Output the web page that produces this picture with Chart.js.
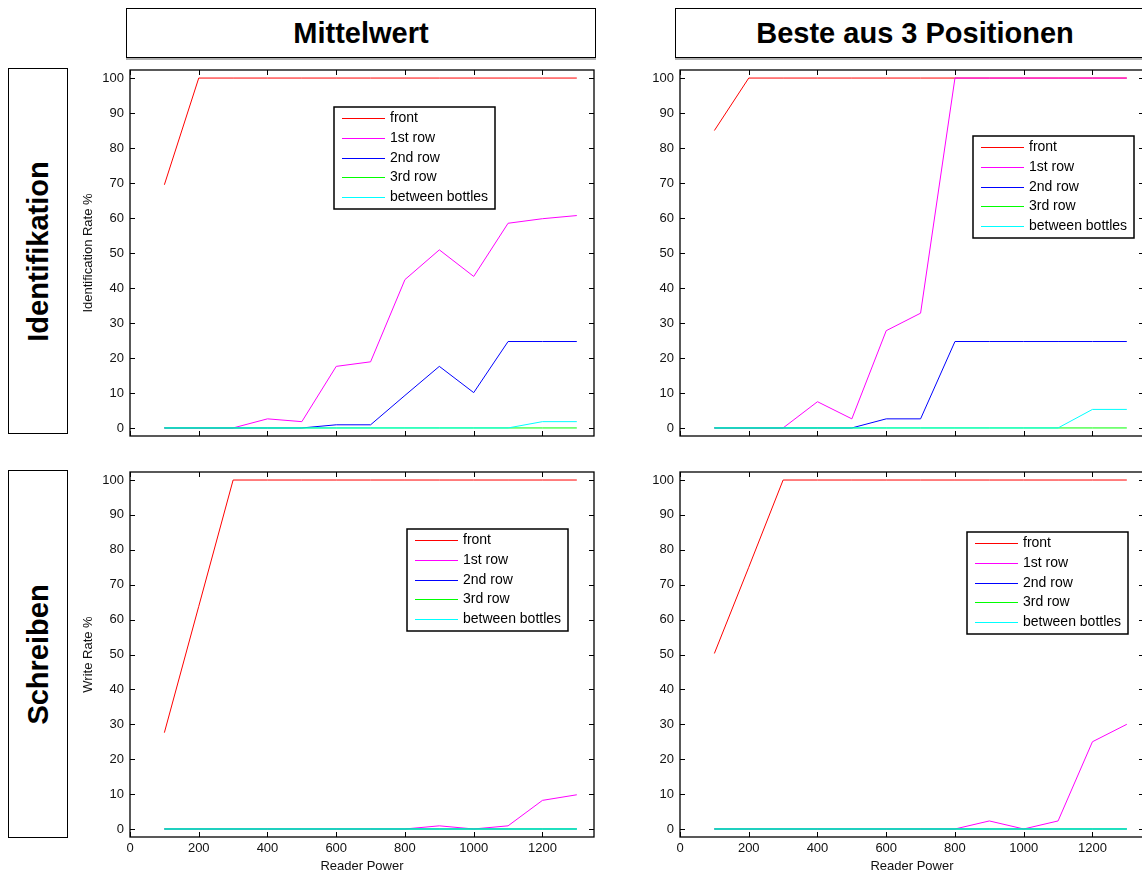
<!DOCTYPE html>
<html>
<head>
<meta charset="utf-8">
<script src="https://cdn.jsdelivr.net/npm/chart.js@4.4.1/dist/chart.umd.min.js"></script>
<style>
body { margin: 0; background: #fff; width: 1142px; height: 874px; overflow: hidden; position: relative;
       font-family: "Liberation Sans", Arial, sans-serif; }
.hdr { position: absolute; box-sizing: border-box; border: 1px solid #000; background: #fff;
       font-weight: bold; font-size: 29px; display: flex; align-items: center; justify-content: center; }
.top { box-shadow: 0 2px 0 #b0b0b0; }
.side span { transform: rotate(-90deg); white-space: nowrap; }
canvas { position: absolute; }
</style>
</head>
<body>
<div class="hdr top" style="left:126px;top:8px;width:470px;height:50px;">Mittelwert</div>
<div class="hdr top" style="left:675px;top:8px;width:480px;height:50px;">Beste aus 3 Positionen</div>
<div class="hdr side" style="left:8px;top:68px;width:60px;height:366px;"><span>Identifikation</span></div>
<div class="hdr side" style="left:8px;top:470px;width:60px;height:368px;"><span>Schreiben</span></div>

<canvas id="idMean" width="530" height="384" style="left:76px;top:60px;"></canvas>
<canvas id="idBest" width="530" height="384" style="left:630px;top:60px;"></canvas>
<canvas id="wrMean" width="530" height="412" style="left:76px;top:462px;"></canvas>
<canvas id="wrBest" width="530" height="412" style="left:630px;top:462px;"></canvas>

<script>
// reader power settings (x values)
const powers = [100, 200, 300, 400, 500, 600, 700, 800, 900, 1000, 1100, 1200, 1300];
const seriesNames = ['front', '1st row', '2nd row', '3rd row', 'between bottles'];
const xTicks = [0, 200, 400, 600, 800, 1000, 1200];
const yTicks = [0, 10, 20, 30, 40, 50, 60, 70, 80, 90, 100];

// Identifikation - Mittelwert
const idMeanFront   = [69.5, 100, 100, 100, 100, 100, 100, 100, 100, 100, 100, 100, 100];
const idMean1st     = [0, 0, 0, 2.6, 1.8, 17.6, 18.9, 42.4, 50.9, 43.3, 58.5, 59.8, 60.7];
const idMean2nd     = [0, 0, 0, 0, 0, 0.9, 0.9, 9.3, 17.6, 10.1, 24.7, 24.7, 24.7];
const idMean3rd     = [0, 0, 0, 0, 0, 0, 0, 0, 0, 0, 0, 0, 0];
const idMeanBetween = [0, 0, 0, 0, 0, 0, 0, 0, 0, 0, 0, 1.8, 1.8];

// Identifikation - Beste aus 3 Positionen
const idBestFront   = [85, 100, 100, 100, 100, 100, 100, 100, 100, 100, 100, 100, 100];
const idBest1st     = [0, 0, 0, 7.5, 2.6, 27.8, 32.8, 100, 100, 100, 100, 100, 100];
const idBest2nd     = [0, 0, 0, 0, 0, 2.6, 2.6, 24.7, 24.7, 24.7, 24.7, 24.7, 24.7];
const idBest3rd     = [0, 0, 0, 0, 0, 0, 0, 0, 0, 0, 0, 0, 0];
const idBestBetween = [0, 0, 0, 0, 0, 0, 0, 0, 0, 0, 0, 5.3, 5.3];

// Schreiben - Mittelwert
const wrMeanFront   = [27.6, 63.8, 100, 100, 100, 100, 100, 100, 100, 100, 100, 100, 100];
const wrMean1st     = [0, 0, 0, 0, 0, 0, 0, 0, 0.9, 0, 0.9, 8.2, 9.8];
const wrMean2nd     = [0, 0, 0, 0, 0, 0, 0, 0, 0, 0, 0, 0, 0];
const wrMean3rd     = [0, 0, 0, 0, 0, 0, 0, 0, 0, 0, 0, 0, 0];
const wrMeanBetween = [0, 0, 0, 0, 0, 0, 0, 0, 0, 0, 0, 0, 0];

// Schreiben - Beste aus 3 Positionen
const wrBestFront   = [50.3, 75, 100, 100, 100, 100, 100, 100, 100, 100, 100, 100, 100];
const wrBest1st     = [0, 0, 0, 0, 0, 0, 0, 0, 2.3, 0, 2.3, 25, 30];
const wrBest2nd     = [0, 0, 0, 0, 0, 0, 0, 0, 0, 0, 0, 0, 0];
const wrBest3rd     = [0, 0, 0, 0, 0, 0, 0, 0, 0, 0, 0, 0, 0];
const wrBestBetween = [0, 0, 0, 0, 0, 0, 0, 0, 0, 0, 0, 0, 0];

const lineColors = ['#ff0000', '#ff00ff', '#0000ff', '#00ff00', '#00ffff'];
const FONT = '"Liberation Sans", Arial, sans-serif';

Chart.defaults.font.family = FONT;
Chart.defaults.color = '#111';

// matlab style box with inward ticks on all four sides
const axesFrame = {
    id: 'axesFrame',
    afterDatasetsDraw(chart) {
        const { ctx, chartArea: a, scales: { x, y } } = chart;
        ctx.save();
        ctx.strokeStyle = '#000';
        ctx.lineWidth = 1;
        ctx.beginPath();
        x.ticks.forEach(t => {
            const px = Math.round(x.getPixelForValue(t.value)) + 0.5;
            ctx.moveTo(px, a.top); ctx.lineTo(px, a.top + 5);
            ctx.moveTo(px, a.bottom); ctx.lineTo(px, a.bottom - 5);
        });
        y.ticks.forEach(t => {
            const py = Math.round(y.getPixelForValue(t.value)) + 0.5;
            ctx.moveTo(a.left, py); ctx.lineTo(a.left + 5, py);
            ctx.moveTo(a.right, py); ctx.lineTo(a.right - 5, py);
        });
        ctx.stroke();
        ctx.lineWidth = 1.3;
        ctx.strokeRect(a.left, a.top, a.right - a.left, a.bottom - a.top);
        ctx.restore();
    }
};

// legend box drawn inside the plot
const boxLegend = {
    id: 'boxLegend',
    afterDatasetsDraw(chart, args, opts) {
        const { ctx, chartArea } = chart;
        const x = chartArea.left + opts.x, y = chartArea.top + opts.y;
        const w = 161, h = 102;
        ctx.save();
        ctx.fillStyle = '#fff';
        ctx.fillRect(x, y, w, h);
        ctx.strokeStyle = '#000';
        ctx.lineWidth = 1.5;
        ctx.strokeRect(x, y, w, h);
        ctx.font = '14px ' + FONT;
        ctx.textBaseline = 'middle';
        chart.data.datasets.forEach((ds, i) => {
            const ly = Math.round(y + 11 + i * 19.8) + 0.5;
            ctx.strokeStyle = ds.borderColor;
            ctx.lineWidth = 1.2;
            ctx.beginPath();
            ctx.moveTo(x + 8, ly);
            ctx.lineTo(x + 51, ly);
            ctx.stroke();
            ctx.fillStyle = '#000';
            ctx.fillText(ds.label, x + 56, ly);
        });
        ctx.restore();
    }
};

function makePanel(id, values, cfg) {
    const datasets = values.map((vals, i) => ({
        label: seriesNames[i],
        data: powers.map((p, j) => ({ x: p, y: vals[j] })),
        borderColor: lineColors[i],
        borderWidth: 1,
        pointRadius: 0,
        tension: 0,
        fill: false,
        order: values.length - i
    }));

    new Chart(document.getElementById(id), {
        type: 'line',
        data: { datasets },
        plugins: [axesFrame, boxLegend],
        options: {
            responsive: false,
            animation: false,
            layout: { padding: { top: 10, right: cfg.padRight, bottom: 0, left: 0 } },
            plugins: {
                legend: { display: false },
                tooltip: { enabled: false },
                boxLegend: cfg.legend
            },
            scales: {
                x: {
                    type: 'linear', min: 0, max: 1350,
                    afterBuildTicks: s => { s.ticks = xTicks.map(v => ({ value: v })); },
                    afterFit: s => { s.height = cfg.xHeight; s.paddingLeft = 0; s.paddingRight = 0; },
                    grid: { display: false, drawTicks: false },
                    border: { display: false },
                    ticks: {
                        display: cfg.showX, padding: 4, maxRotation: 0, autoSkip: false,
                        font: { size: 13 }, callback: v => String(v)
                    },
                    title: { display: cfg.showX, text: 'Reader Power', font: { size: 13 }, padding: { top: 0, bottom: 0 } }
                },
                y: {
                    type: 'linear', min: -2.3, max: 102.3,
                    afterBuildTicks: s => { s.ticks = yTicks.map(v => ({ value: v })); },
                    afterFit: s => { s.width = cfg.yWidth; s.paddingTop = 0; s.paddingBottom = 0; },
                    grid: { display: false, drawTicks: false },
                    border: { display: false },
                    ticks: { padding: 6, font: { size: 13 } },
                    title: { display: !!cfg.yTitle, text: cfg.yTitle || '', font: { size: 13 }, padding: { top: 5, bottom: 0 } }
                }
            }
        }
    });
}

makePanel('idMean', [idMeanFront, idMean1st, idMean2nd, idMean3rd, idMeanBetween],
    { showX: false, xHeight: 8, yWidth: 54, padRight: 12, yTitle: 'Identification Rate %', legend: { x: 204, y: 37 } });
makePanel('idBest', [idBestFront, idBest1st, idBest2nd, idBest3rd, idBestBetween],
    { showX: false, xHeight: 8, yWidth: 50, padRight: 16, legend: { x: 293, y: 66 } });
makePanel('wrMean', [wrMeanFront, wrMean1st, wrMean2nd, wrMean3rd, wrMeanBetween],
    { showX: true, xHeight: 37, yWidth: 54, padRight: 12, yTitle: 'Write Rate %', legend: { x: 277, y: 57 } });
makePanel('wrBest', [wrBestFront, wrBest1st, wrBest2nd, wrBest3rd, wrBestBetween],
    { showX: true, xHeight: 37, yWidth: 50, padRight: 16, legend: { x: 287, y: 60 } });
</script>
</body>
</html>
